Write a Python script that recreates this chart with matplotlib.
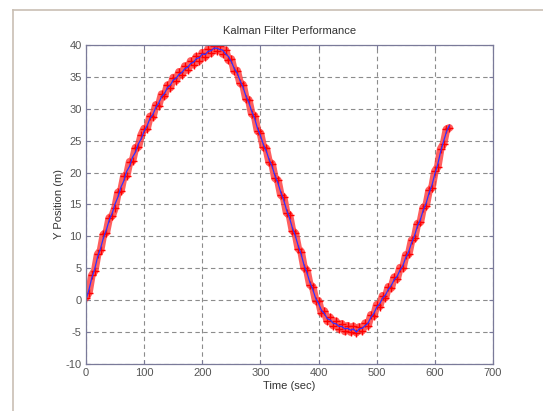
import matplotlib
matplotlib.use('Agg')
import matplotlib.pyplot as plt
import numpy as np
from matplotlib.lines import Line2D

# sample times (sec), every 5 s
t = np.arange(0, 630, 5)

# noisy measurements (red +)
measured = [
    0.4, 1.2, 3.9, 4.6, 7.2, 7.8, 10.3, 10.6, 12.9, 13.2,
    14.5, 16.9, 17.1, 19.4, 19.5, 21.7, 21.8, 23.9, 24.0, 25.9,
    26.9, 26.9, 28.8, 28.7, 30.6, 30.5, 32.3, 32.0, 33.7, 33.3,
    34.9, 34.4, 35.8, 35.3, 36.7, 36.1, 37.5, 36.9, 38.2, 37.5,
    38.8, 38.1, 39.4, 38.7, 39.9, 39.1, 39.8, 38.6, 39.2, 37.6,
    37.8, 35.9, 36.0, 34.0, 33.8, 31.6, 31.4, 29.2, 28.9, 26.5,
    26.2, 24.0, 23.8, 21.6, 21.4, 19.1, 18.8, 16.5, 16.1, 13.7,
    13.3, 10.9, 10.5, 8.1, 7.6, 5.1, 4.7, 2.4, 2.1, -0.1,
    -0.1, -2.0, -1.7, -3.3, -2.7, -4.0, -3.3, -4.5, -3.7, -4.9,
    -4.0, -5.0, -4.1, -5.1, -4.2, -4.8, -3.6, -4.0, -2.3, -2.5,
    -0.7, -1.0, 0.7, 0.4, 2.1, 1.9, 3.6, 3.3, 5.1, 5.0,
    7.1, 7.2, 9.4, 9.7, 12.0, 12.2, 14.5, 14.8, 17.2, 17.6,
    20.2, 20.9, 23.7, 24.5, 26.8, 27.0,
]

# kalman estimate (blue line)
estimate = [
    0.1, 1.6, 3.5, 4.9, 6.8, 8.1, 9.8, 11.0, 12.6, 13.6,
    15.1, 16.2, 17.7, 18.7, 20.2, 21.0, 22.4, 23.2, 24.5, 25.3,
    26.5, 27.3, 28.5, 29.1, 30.2, 30.9, 31.9, 32.4, 33.3, 33.7,
    34.5, 34.8, 35.4, 35.7, 36.3, 36.5, 37.1, 37.3, 37.9, 38.0,
    38.6, 38.5, 39.0, 39.1, 39.5, 39.5, 39.3, 39.2, 38.6, 38.2,
    37.4, 36.3, 35.6, 34.4, 33.4, 32.0, 31.0, 29.6, 28.5, 26.9,
    25.8, 24.4, 23.4, 22.0, 21.0, 19.5, 18.4, 16.9, 15.7, 14.1,
    12.9, 11.3, 10.1, 8.5, 7.2, 5.5, 4.3, 2.8, 1.7, 0.3,
    -0.5, -1.6, -2.1, -2.9, -3.1, -3.6, -3.7, -4.1, -4.1, -4.5,
    -4.4, -4.7, -4.5, -5.0, -4.5, -4.4, -4.0, -3.6, -2.7, -2.1,
    -1.1, -0.6, 0.3, 0.8, 1.7, 2.3, 3.2, 3.7, 4.7, 5.4,
    6.7, 7.6, 9.0, 10.1, 11.6, 12.6, 14.1, 15.2, 16.8, 18.0,
    19.8, 21.3, 23.3, 24.9, 26.4, 27.4,
]

plt.rcParams['font.family'] = ['Liberation Sans', 'DejaVu Sans']
plt.rcParams['axes.unicode_minus'] = False

fig = plt.figure(figsize=(5.43, 4.11), dpi=100)
ax = fig.add_axes([0.1584, 0.1144, 0.7495, 0.7761])

# measurements: thick band plus + markers so they read as a dense cloud
ax.plot(t, measured, '-', color='#ff2a2a', linewidth=5.5, alpha=0.75, solid_capstyle='round')
ax.plot(t, measured, '+', color='#ff0000', markersize=6, markeredgewidth=1.0)
ax.plot(t, estimate, '-', color='#3030ff', linewidth=0.9)

ax.set_xlim(0, 700)
ax.set_ylim(-10, 40)
ax.set_xticks(np.arange(0, 701, 100))
ax.set_yticks(np.arange(-10, 41, 5))

ax.grid(True, linestyle=(0, (4, 3)), color='#8c8c8c', linewidth=0.8)
for s in ax.spines.values():
    s.set_color('#7a7a99')
    s.set_linewidth(0.9)
ax.tick_params(direction='in', length=3, color='#7a7a99', labelcolor='#555555',
               labelsize=8, top=True, right=True, pad=3)

ax.set_title('Kalman Filter Performance', fontsize=8, color='#333333', pad=8)
ax.set_xlabel('Time (sec)', fontsize=8, color='#333333', labelpad=2)
ax.set_ylabel('Y Position (m)', fontsize=8, color='#333333', labelpad=1)

# outer frame of the screenshot window
fig.add_artist(Line2D([13 / 543, 13 / 543], [0, 1 - 10 / 411], transform=fig.transFigure,
                      color='#c9bfb4', linewidth=1.2))
fig.add_artist(Line2D([13 / 543, 1], [1 - 10 / 411, 1 - 10 / 411], transform=fig.transFigure,
                      color='#c9bfb4', linewidth=1.2))

fig.savefig('out.png', dpi=100)
